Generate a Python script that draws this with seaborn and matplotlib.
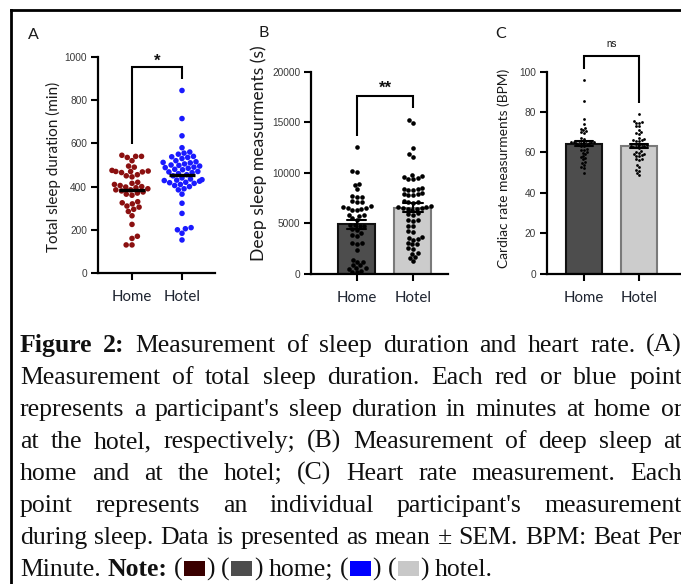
import re
import warnings
import numpy as np
import pandas as pd
import seaborn as sns
import matplotlib
matplotlib.use("Agg")
import matplotlib.pyplot as plt
from matplotlib.patches import Rectangle
from matplotlib.lines import Line2D

warnings.filterwarnings("ignore")

# ---------------- data ----------------
groups = ["Home", "Hotel"]

total_sleep_home = [540, 545, 535, 540, 520, 495, 490, 470, 468, 472, 465, 470, 475, 455,
                    450, 445, 420, 415, 410, 400, 405, 398, 395, 390, 385, 380, 375, 385,
                    370, 365, 360, 330, 325, 320, 310, 305, 295, 285, 265, 225, 170, 160,
                    130, 130]
total_sleep_hotel = [845, 715, 635, 580, 560, 555, 550, 540, 538, 535, 530, 520, 515, 512,
                     510, 505, 500, 498, 495, 490, 488, 485, 480, 478, 470, 468, 465, 460,
                     455, 450, 440, 435, 432, 430, 428, 425, 420, 418, 415, 410, 405, 400,
                     390, 385, 365, 323, 276, 210, 205, 200, 184, 153]

deep_sleep_home = [12600, 10200, 10050, 8850, 8800, 8400, 7700, 7650, 7600, 7200, 7150, 7100,
                   6700, 6600, 6550, 6500, 6450, 6350, 6300, 5850, 5800, 5750, 5500, 5350,
                   4850, 4800, 4750, 4700, 4400, 4350, 4100, 3900, 3800, 3100, 3050, 3000,
                   2400, 1400, 1200, 1150, 900, 850, 600, 550, 500, 300, 200, 150]
deep_sleep_hotel = [15200, 14900, 12450, 11850, 11600, 9800, 9700, 9600, 9500, 9400, 9350,
                    8500, 8450, 8400, 8350, 8300, 8000, 7950, 7900, 7850, 7800, 7200, 7150,
                    7100, 7050, 6700, 6650, 6600, 6550, 6500, 6450, 6400, 6300, 6000, 5900,
                    5850, 5350, 5300, 5250, 4750, 4700, 4250, 4200, 3700, 3600, 3500, 3400,
                    3050, 3000, 2950, 2550, 2500, 2050, 2000, 1650, 1600, 1250]

heart_rate_home = [96, 85.5, 76.5, 74, 72, 71.5, 71, 70.5, 70, 69.5, 67, 66.5, 65.5, 65.5,
                   65, 65, 65, 65, 64.5, 64.5, 64.5, 64.5, 63.5, 63.5, 63, 63, 61.5, 61, 61,
                   60, 59.5, 59, 58, 57.5, 57, 56.5, 55.5, 55, 54, 53, 52.5, 50]
heart_rate_hotel = [79, 75.5, 75, 74.5, 74.5, 73, 73, 71, 70, 69.5, 69, 67, 66.5, 66, 66,
                    65.5, 65.5, 64, 64, 63.5, 63.5, 63, 63, 62.5, 62.5, 62.5, 62, 60.5, 60,
                    59.5, 59, 59, 58.5, 58, 58, 56.5, 56.5, 56, 54, 53, 51.5, 51, 50, 49]

yticks_a = [0, 200, 400, 600, 800, 1000]
yticks_b = [0, 5000, 10000, 15000, 20000]
yticks_c = [0, 20, 40, 60, 80, 100]

ylabel_a = "Total sleep duration (min)"
ylabel_b = "Deep sleep measurments (s)"
ylabel_c = "Cardiac rate measurments (BPM)"
sig_labels = ["*", "**", "ns"]
panel_letters = ["A", "B", "C"]

caption_lines = [
    "**Figure 2:** Measurement of sleep duration and heart rate. (A)",
    "Measurement of total sleep duration. Each red or blue point",
    "represents a participant's sleep duration in minutes at home or",
    "at the hotel, respectively; (B) Measurement of deep sleep at",
    "home and at the hotel; (C) Heart rate measurement. Each",
    "point represents an individual participant's measurement",
    "during sleep. Data is presented as mean \u00b1 SEM. BPM: Beat Per",
    "Minute. **Note:** ({0}) ({1}) home; ({2}) ({3}) hotel.",
]
note_colors = ["#3a0000", "#4d4d4d", "#0000ff", "#c8c8c8"]


def long_df(home, hotel):
    return pd.DataFrame({"group": ["Home"] * len(home) + ["Hotel"] * len(hotel),
                         "value": list(home) + list(hotel)})


df_a = long_df(total_sleep_home, total_sleep_hotel)
df_b = long_df(deep_sleep_home, deep_sleep_hotel)
df_c = long_df(heart_rate_home, heart_rate_hotel)

# ---------------- style ----------------
sns.set_style("ticks")
plt.rcParams["font.family"] = ["Lato", "DejaVu Sans"]

W, H = 681, 584
fig = plt.figure(figsize=(W / 100, H / 100), dpi=100)
fig.patch.set_facecolor("white")


def px_axes(l, r, t, b):
    return fig.add_axes([l / W, 1 - b / H, (r - l) / W, (b - t) / H])


axA = px_axes(98, 215, 57, 273)
axB = px_axes(311, 448, 71.7, 274)
axC = px_axes(547, 680, 71.7, 273.5)

# ---------------- panel A ----------------
sns.swarmplot(data=df_a, x="group", y="value", order=groups, hue="group",
              palette={"Home": "#8b1010", "Hotel": "#1a1aff"}, size=4.0,
              legend=False, ax=axA, zorder=2)
sns.pointplot(data=df_a, x="group", y="value", order=groups, estimator="mean",
              errorbar=None, color="black", markers="_", linestyles="none",
              markersize=19, markeredgewidth=2.4, ax=axA, zorder=4)

# ---------------- panels B, C ----------------
bar_pal = {"Home": "#4d4d4d", "Hotel": "#cccccc"}
edge_cols = ["#111111", "#7a7a7a"]


def bars_with_points(ax, df, dot_size):
    n0 = len(ax.lines)
    sns.barplot(data=df, x="group", y="value", order=groups, hue="group",
                palette=bar_pal, errorbar="se", capsize=0.34, width=0.66,
                err_kws={"color": "black", "linewidth": 1.5}, linewidth=1.5,
                legend=False, ax=ax)
    for p, ec in zip(ax.patches, edge_cols):
        p.set_edgecolor(ec)
    for ln in ax.lines[n0:]:
        ln.set_zorder(5)
    sns.swarmplot(data=df, x="group", y="value", order=groups, color="black",
                  size=dot_size, ax=ax, zorder=3)


bars_with_points(axB, df_b, 3.3)
bars_with_points(axC, df_c, 2.0)

# ---------------- axes styling ----------------
specs = [
    (axA, yticks_a, (-0.68, 1.66), ylabel_a, 11.0, 53, 167),
    (axB, yticks_b, (-0.82, 1.625), ylabel_b, 12.6, 259, 153),
    (axC, yticks_c, (-0.673, 1.745), ylabel_c, 9.9, 504, 168),
]
for ax, yt, xl, lab, labsize, lx, ly in specs:
    ax.set_ylim(yt[0], yt[-1])
    ax.set_yticks(yt)
    ax.set_yticklabels([str(v) for v in yt])
    ax.set_xlim(*xl)
    ax.set_xticks([0, 1])
    ax.set_xticklabels(groups)
    ax.set_xlabel("")
    ax.set_facecolor("none")
    for s in ["top", "right"]:
        ax.spines[s].set_visible(False)
    for s in ["left", "bottom"]:
        ax.spines[s].set_linewidth(1.6)
        ax.spines[s].set_color("black")
    ax.tick_params(axis="both", direction="out", length=4.8, width=1.5, color="black")
    ax.tick_params(axis="y", labelsize=7.3, labelcolor="#3a3a3a", pad=3)
    ax.tick_params(axis="x", labelsize=10.8, labelcolor="#1e2430", pad=7.5)
    for t in ax.get_yticklabels():
        t.set_fontfamily(["Liberation Sans", "DejaVu Sans"])
    ax.set_ylabel(lab, fontsize=labsize, color="#1a1a1a")
    ax.yaxis.label.set_va("center")
    bb = ax.get_position()
    ax.yaxis.set_label_coords((lx / W - bb.x0) / bb.width, ((1 - ly / H) - bb.y0) / bb.height)

# significance brackets
brackets = [
    (axA, 597, 955, 897, 960, 12, "bold"),
    (axB, 13660, 17640, 16390, 17960, 12, "bold"),
    (axC, 101.2, 107.6, 84.7, 112.4, 7, "normal"),
]
for (ax, y0, ytop, y1, ytxt, fs, fw), lab in zip(brackets, sig_labels):
    ax.plot([0, 0, 1, 1], [y0, ytop, ytop, y1], color="black", lw=1.5,
            clip_on=False, solid_capstyle="butt", solid_joinstyle="miter", zorder=6)
    ax.text(0.5, ytxt, lab, ha="center", va="baseline", fontsize=fs, fontweight=fw,
            family=["Liberation Sans", "DejaVu Sans"], color="#111111", clip_on=False)

# panel letters
for letter, (x, y) in zip(panel_letters, [(28, 39), (259, 37), (495, 38)]):
    fig.text(x / W, 1 - y / H, letter, fontsize=11.5, ha="left", va="baseline", color="#1a1a1a")

# frame lines
fig.add_artist(Line2D([10.5 / W, 10.5 / W], [0, 1 - 10 / H], color="black", lw=2.0,
                      transform=fig.transFigure, solid_capstyle="projecting"))
fig.add_artist(Line2D([10.5 / W, 1], [1 - 10 / H, 1 - 10 / H], color="black", lw=2.0,
                      transform=fig.transFigure, solid_capstyle="projecting"))

# ---------------- caption ----------------
cap_family = ["Liberation Serif", "DejaVu Serif"]
cap_size = 18.5
cap_left, cap_right = 20, 682
baseline0, line_gap = 352, 32
sq_w, sq_h, sq_pad = 21, 15, 1.5

fig.canvas.draw()
renderer = fig.canvas.get_renderer()


def measure(s, bold=False, size=cap_size):
    t = fig.text(0, 0, s, fontsize=size, family=cap_family,
                 fontweight="bold" if bold else "normal")
    w = t.get_window_extent(renderer).width
    t.remove()
    return w


def parse_line(line, bold):
    words = []
    for raw in line.split(" "):
        parts = []
        for seg in re.split(r"(\*\*|\{\d\})", raw):
            if seg == "":
                continue
            if seg == "**":
                bold = not bold
                continue
            m = re.fullmatch(r"\{(\d)\}", seg)
            if m:
                parts.append(("sq", note_colors[int(m.group(1))]))
            else:
                parts.append(("t", seg, bold))
        words.append(parts)
    return words, bold


def part_width(p, size):
    if p[0] == "sq":
        return sq_w + 2 * sq_pad
    return measure(p[1], p[2], size)


bold_state = False
for i, line in enumerate(caption_lines):
    words, bold_state = parse_line(line, bold_state)
    size = cap_size
    # shrink a line only if it could not fit with normal spacing
    while True:
        space_w = measure("x x", size=size) - measure("xx", size=size)
        widths = [sum(part_width(p, size) for p in w) for w in words]
        if sum(widths) + space_w * 0.8 * (len(words) - 1) <= cap_right - cap_left or size < 12:
            break
        size -= 0.25
    justify = i < len(caption_lines) - 1
    if justify and len(words) > 1:
        gap = (cap_right - cap_left - sum(widths)) / (len(words) - 1)
    else:
        gap = space_w
    yb = baseline0 + i * line_gap
    x = cap_left
    for w, ww in zip(words, widths):
        xp = x
        for p in w:
            if p[0] == "sq":
                fig.add_artist(Rectangle(((xp + sq_pad) / W, 1 - (yb - 0.5) / H),
                                         sq_w / W, sq_h / H, facecolor=p[1],
                                         edgecolor="none", transform=fig.transFigure))
                xp += sq_w + 2 * sq_pad
            else:
                fig.text(xp / W, 1 - yb / H, p[1], fontsize=size, family=cap_family,
                         fontweight="bold" if p[2] else "normal", ha="left",
                         va="baseline", color="#111111")
                xp += measure(p[1], p[2], size)
        x += ww + gap

fig.savefig("out.png", dpi=100)
